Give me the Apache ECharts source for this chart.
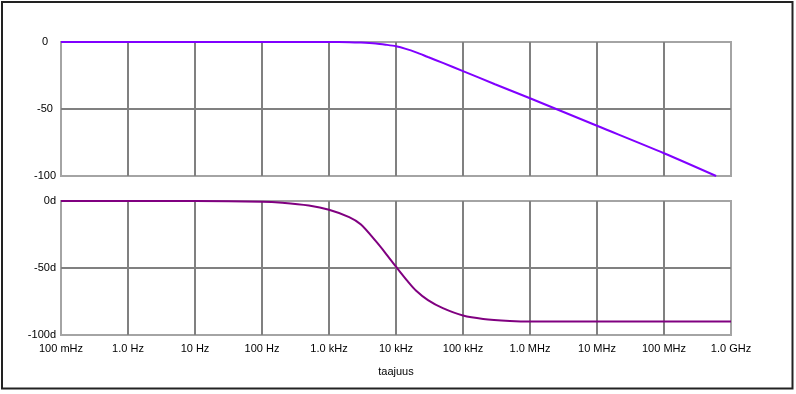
<!DOCTYPE html>
<html>
<head>
<meta charset="utf-8">
<script src="https://cdn.jsdelivr.net/npm/echarts@6/dist/echarts.min.js"></script>
<style>
html,body{margin:0;padding:0;background:#fff;}
#c{width:796px;height:394px;}
</style>
</head>
<body>
<div id="c"></div>
<script>
// Frequencies (Hz) and values
var magFreq = [0.1, 1, 10, 100, 1000, 2000, 3000, 5000, 7000, 10000, 14000, 20000, 30000, 50000, 100000, 300000, 1000000, 10000000, 100000000, 600000000];
var magDb   = [0, 0, 0, 0, 0, -0.1, -0.4, -1.1, -2.0, -3.2, -5.1, -7.7, -11.2, -15.6, -21.7, -31.5, -42, -62.5, -83, -100];

var phaseFreq = [0.1, 1, 10, 100, 200, 500, 1000, 2000, 3000, 5000, 7000, 10000, 15000, 20000, 30000, 50000, 100000, 200000, 500000, 1000000, 10000000, 100000000, 1000000000];
var phaseDeg  = [0, 0, 0, -0.5, -1.3, -3.4, -6.5, -12, -17.5, -30, -39, -49, -60, -67, -74, -80, -85.5, -88, -89.5, -90, -90, -90, -90];

var xTickLabels = ['100 mHz','1.0 Hz','10 Hz','100 Hz','1.0 kHz','10 kHz','100 kHz','1.0 MHz','10 MHz','100 MHz','1.0 GHz'];
var xAxisName = 'taajuus';
var magTicks = [0, -50, -100];
var phaseTickSuffix = 'd';

function pairs(xs, ys){ return xs.map(function(x,i){ return [x, ys[i]]; }); }
function xLabel(v){
  var i = Math.round(Math.log10(v)) + 1;
  return xTickLabels[i] !== undefined ? xTickLabels[i] : '';
}

var font = {fontFamily:'Liberation Sans, Arial, sans-serif', fontSize:11, color:'#000'};
var splitLine = {show:true, showMinLine:false, showMaxLine:false, lineStyle:{color:'#808080', width:2}};

var chart = echarts.init(document.getElementById('c'), null, {renderer:'canvas'});
chart.setOption({
  animation:false,
  backgroundColor:'#fff',
  grid:[
    {left:61, right:65, top:42, height:134, show:true, borderColor:'#a4a4a4', borderWidth:2, backgroundColor:'transparent'},
    {left:61, right:65, top:201, height:134, show:true, borderColor:'#a4a4a4', borderWidth:2, backgroundColor:'transparent'}
  ],
  xAxis:[
    {type:'log', logBase:10, gridIndex:0, min:0.1, max:1e9, splitNumber:10,
     axisLine:{show:false}, axisTick:{show:false}, axisLabel:{show:false},
     splitLine:splitLine, minorSplitLine:{show:false}},
    {type:'log', logBase:10, gridIndex:1, min:0.1, max:1e9, splitNumber:10,
     axisLine:{show:false}, axisTick:{show:false},
     axisLabel:Object.assign({show:true, margin:8, formatter:xLabel, showMinLabel:true, showMaxLabel:true}, font),
     splitLine:splitLine,
     name:xAxisName, nameLocation:'middle', nameGap:31, nameTextStyle:font}
  ],
  yAxis:[
    {type:'value', gridIndex:0, min:magTicks[2], max:magTicks[0], interval:50,
     axisLine:{show:false}, axisTick:{show:false},
     axisLabel:Object.assign({margin:16, align:'center'}, font),
     splitLine:splitLine},
    {type:'value', gridIndex:1, min:-100, max:0, interval:50,
     axisLine:{show:false}, axisTick:{show:false},
     axisLabel:Object.assign({margin:5, formatter:function(v){return v + phaseTickSuffix;}}, font),
     splitLine:splitLine}
  ],
  series:[
    {type:'line', xAxisIndex:0, yAxisIndex:0, data:pairs(magFreq, magDb), smooth:0.3,
     showSymbol:false, symbol:'none', lineStyle:{color:'#8000ff', width:2}, z:5},
    {type:'line', xAxisIndex:1, yAxisIndex:1, data:pairs(phaseFreq, phaseDeg), smooth:0.3,
     showSymbol:false, symbol:'none', lineStyle:{color:'#800080', width:2}, z:5}
  ],
  graphic:[
    {type:'rect', shape:{x:2, y:2, width:790.5, height:386.5}, style:{fill:'none', stroke:'#222', lineWidth:2}, silent:true, z:100}
  ]
});
</script>
</body>
</html>
